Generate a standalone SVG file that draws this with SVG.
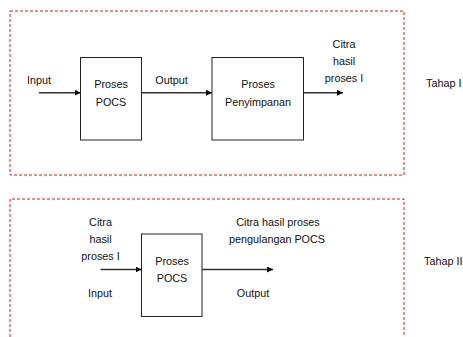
<svg xmlns="http://www.w3.org/2000/svg" width="463" height="337" viewBox="0 0 463 337">
  <style>
    text { font-family: "Liberation Sans", Arial, sans-serif; font-size: 10.8px; fill: #111; }
    .mid { text-anchor: middle; }
    .stage { fill: none; stroke: #e8141c; stroke-width: 1; stroke-dasharray: 3 2; }
    .box { fill: #fff; stroke: #222; stroke-width: 1; }
    .flow { stroke: #333; stroke-width: 1.6; fill: none; marker-end: url(#arrow); }
  </style>
  <defs>
    <marker id="arrow" viewBox="0 0 10 10" refX="10" refY="5" markerWidth="6" markerHeight="6" markerUnits="userSpaceOnUse" orient="auto">
      <path d="M0,0 L10,5 L0,10 z" fill="#000"/>
    </marker>
  </defs>

  <rect id="stage-1" class="stage" x="10" y="11" width="394" height="164"/>
  <path id="stage-2" class="stage" d="M10,337 V199 H404 V337"/>

  <g id="connectors">
    <line class="flow" x1="39" y1="92.7" x2="80.5" y2="92.7"/>
    <line class="flow" x1="141.5" y1="92.7" x2="212" y2="92.7"/>
    <line class="flow" x1="303.5" y1="92.7" x2="343" y2="92.7"/>
    <line class="flow" x1="100.5" y1="269.5" x2="141.5" y2="269.5"/>
    <line class="flow" x1="202" y1="269.5" x2="273" y2="269.5"/>
  </g>

  <g id="pocs-1">
    <rect class="box" x="80.5" y="57.5" width="61" height="82.5"/>
    <text class="mid" x="111" y="88">Proses</text>
    <text class="mid" x="111" y="106">POCS</text>
  </g>
  <g id="penyimpanan">
    <rect class="box" x="212" y="57.5" width="91.5" height="82.5"/>
    <text class="mid" x="258" y="88">Proses</text>
    <text class="mid" x="258" y="106">Penyimpanan</text>
  </g>
  <g id="pocs-2">
    <rect class="box" x="141.5" y="234" width="60.5" height="82.5"/>
    <text class="mid" x="172" y="265">Proses</text>
    <text class="mid" x="172" y="282">POCS</text>
  </g>

  <g id="labels">
    <text x="27" y="84">Input</text>
    <text class="mid" x="171.5" y="84">Output</text>
    <text class="mid" x="344" y="48">Citra</text>
    <text class="mid" x="344" y="65">hasil</text>
    <text class="mid" x="344" y="82">proses I</text>
    <text x="426" y="87">Tahap I</text>

    <text class="mid" x="100.5" y="226">Citra</text>
    <text class="mid" x="100.5" y="243">hasil</text>
    <text class="mid" x="100.5" y="260">proses I</text>
    <text class="mid" x="100" y="297">Input</text>
    <text class="mid" x="278" y="226">Citra hasil proses</text>
    <text class="mid" x="277" y="243">pengulangan POCS</text>
    <text class="mid" x="253" y="297">Output</text>
    <text x="424" y="265">Tahap II</text>
  </g>
</svg>
